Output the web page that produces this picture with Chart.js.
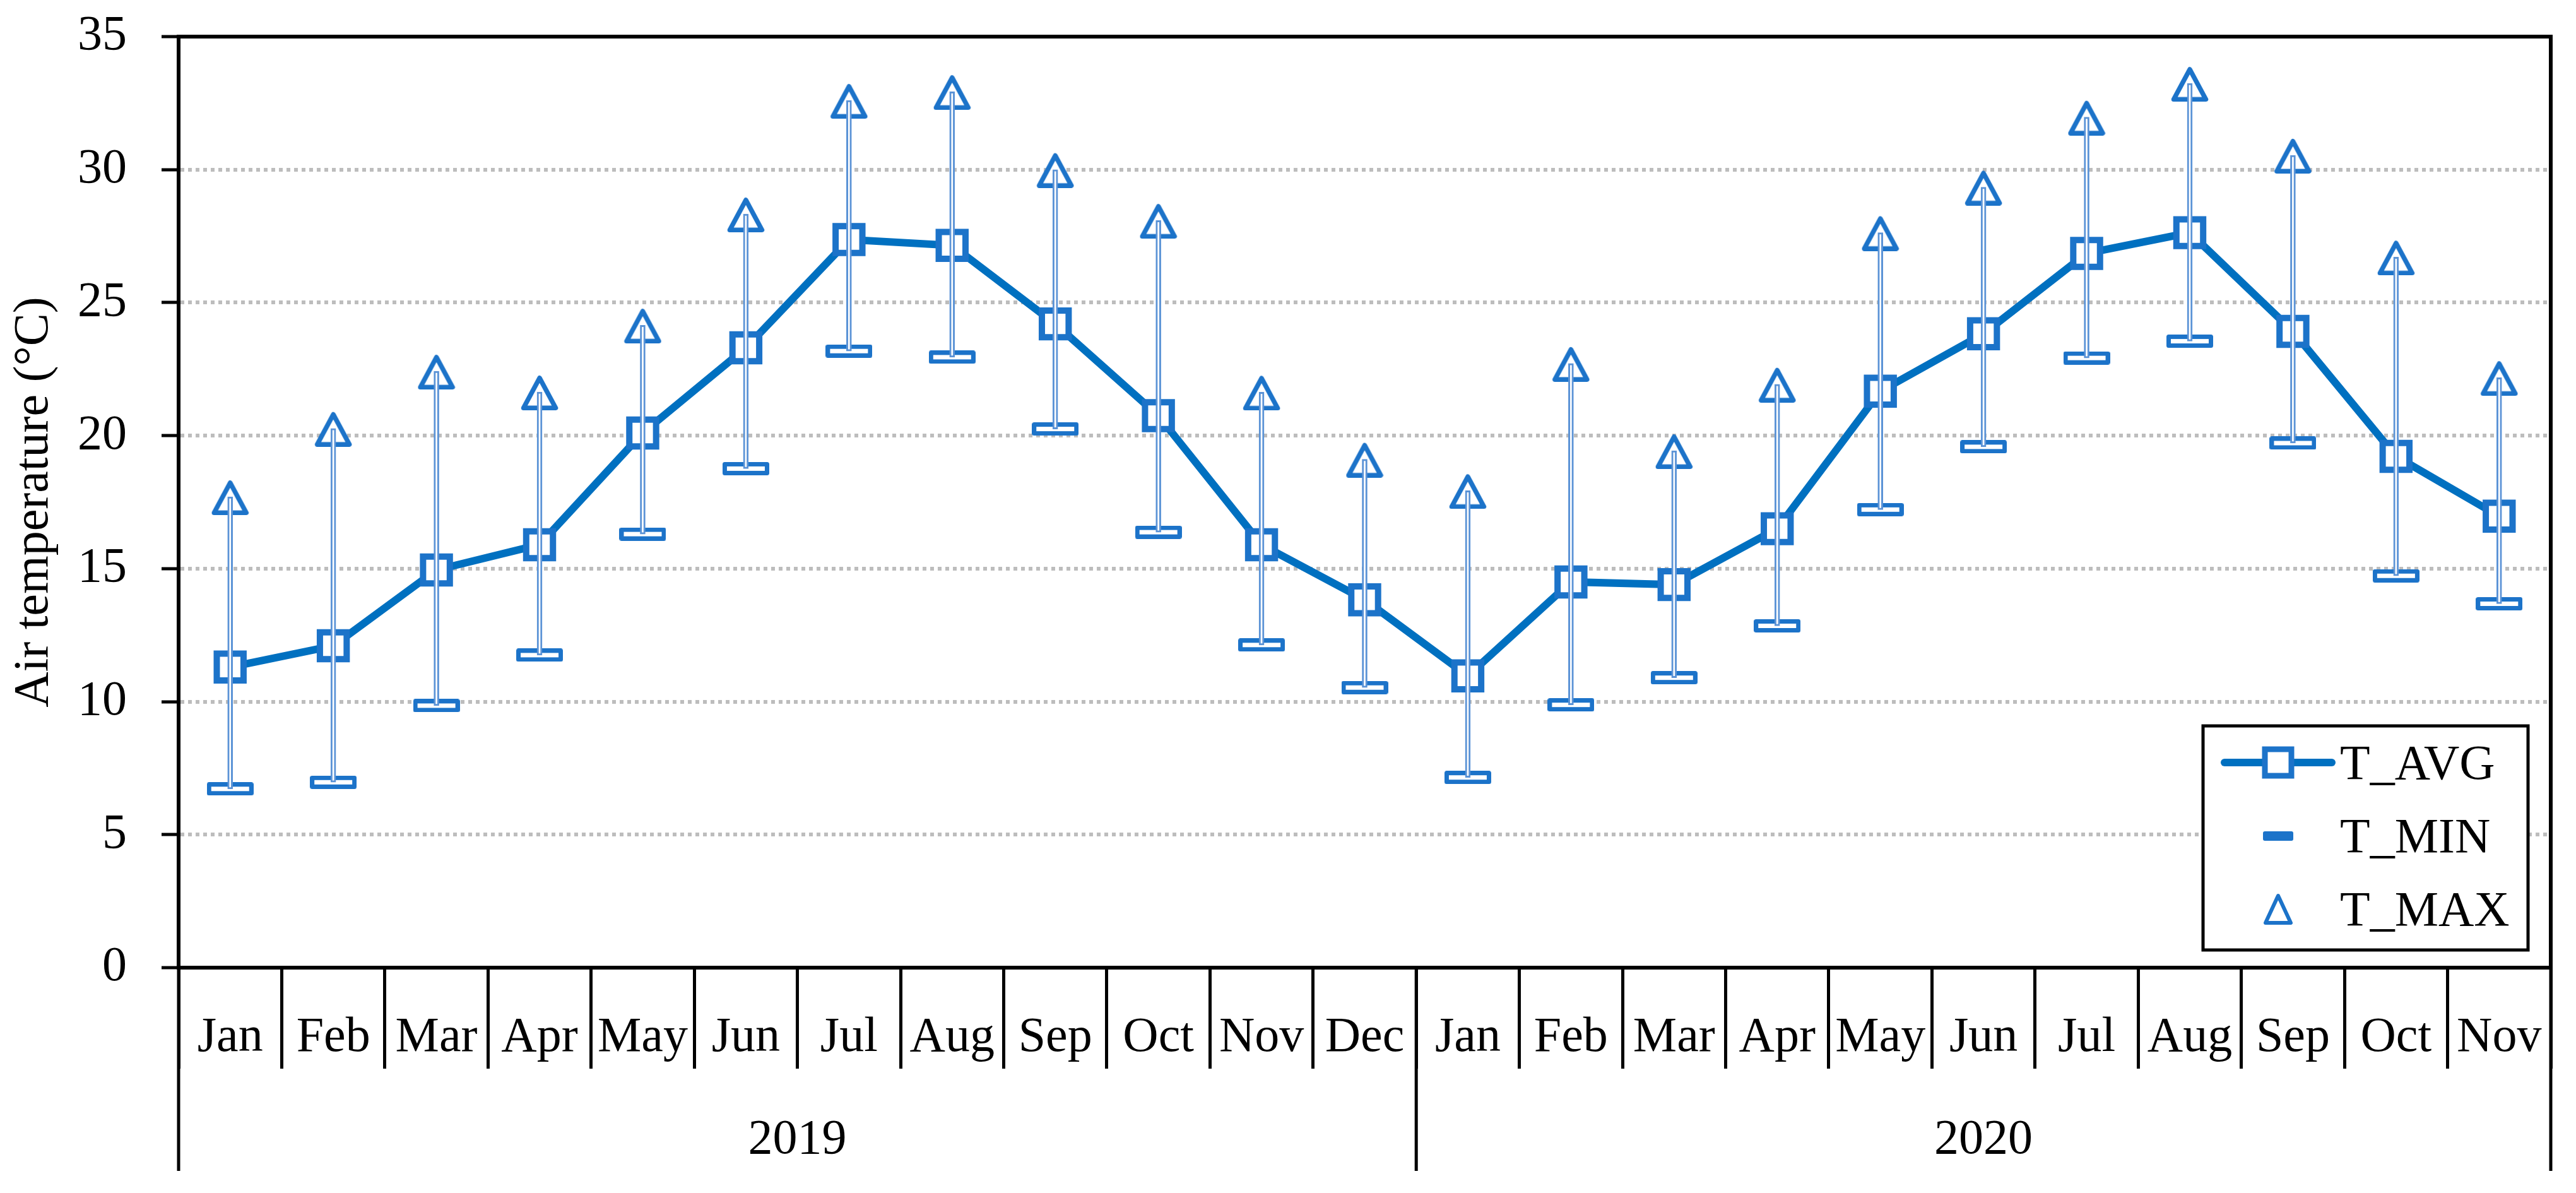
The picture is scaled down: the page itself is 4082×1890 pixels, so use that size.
<!DOCTYPE html>
<html>
<head>
<meta charset="utf-8">
<title>Air temperature 2019-2020</title>
<script src="https://cdn.jsdelivr.net/npm/chart.js@4.4.1/dist/chart.umd.min.js"></script>
<style>
  html, body { margin: 0; padding: 0; background: #fff; }
  canvas { display: block; }
</style>
</head>
<body>
<canvas id="tempChart" width="4082" height="1890"></canvas>
<script>
const months = ['Jan', 'Feb', 'Mar', 'Apr', 'May', 'Jun', 'Jul', 'Aug', 'Sep', 'Oct', 'Nov', 'Dec',
                'Jan', 'Feb', 'Mar', 'Apr', 'May', 'Jun', 'Jul', 'Aug', 'Sep', 'Oct', 'Nov'];
const years = ['2019', '2020'];
const monthsPerYear = [12, 11];

const tAvg = [11.3, 12.1, 14.95, 15.9, 20.1, 23.3, 27.37, 27.15, 24.2, 20.75, 15.9, 13.83,
              10.97, 14.5, 14.4, 16.5, 21.67, 23.83, 26.85, 27.63, 23.92, 19.22, 16.97];
const tMin = [6.72, 6.97, 9.85, 11.75, 16.3, 18.76, 23.18, 22.95, 20.25, 16.37, 12.13, 10.53,
              7.15, 9.88, 10.9, 12.85, 17.22, 19.58, 22.92, 23.55, 19.72, 14.73, 13.68];
const tMax = [17.7, 20.27, 22.42, 21.64, 24.15, 28.33, 32.6, 32.93, 30.0, 28.09, 21.63, 19.11,
              17.93, 22.71, 19.43, 21.93, 27.63, 29.34, 31.97, 33.24, 30.54, 26.71, 22.18];

const yMin = 0;
const yMax = 35;
const yStep = 5;

const LINE_BLUE = '#0070C0';
const MARK_BLUE = '#1C73C9';
const BAR_EDGE = '#5B93D6';
const BAR_FILL = '#FFFFFF';
const FONT = "'Liberation Serif', 'Times New Roman', serif";
const FONT_SIZE = 78;

// marker for T_MIN: outlined flat rectangle
function minMarker(w, h, lw) {
    const c = document.createElement('canvas');
    c.width = w; c.height = h;
    const g = c.getContext('2d');
    g.fillStyle = '#fff';
    g.fillRect(lw / 2, lw / 2, w - lw, h - lw);
    g.strokeStyle = MARK_BLUE;
    g.lineWidth = lw;
    g.lineJoin = 'round';
    g.strokeRect(lw / 2, lw / 2, w - lw, h - lw);
    return c;
}

// marker for T_MAX: outlined triangle, centered on its bounding box
function maxMarker(w, h, lw) {
    const c = document.createElement('canvas');
    c.width = w; c.height = h;
    const g = c.getContext('2d');
    g.beginPath();
    g.moveTo(w / 2, lw * 0.9);
    g.lineTo(w - lw * 0.6, h - lw / 2);
    g.lineTo(lw * 0.6, h - lw / 2);
    g.closePath();
    g.fillStyle = '#fff';
    g.fill();
    g.lineJoin = 'round';
    g.strokeStyle = MARK_BLUE;
    g.lineWidth = lw;
    g.stroke();
    return c;
}

const minIcon = minMarker(74, 21, 7);
const maxIcon = maxMarker(60, 58, 7.5);

const framePlugin = {
    id: 'frame',
    afterDraw(chart) {
        const { ctx, chartArea: a, scales: { x } } = chart;
        const step = x.getPixelForValue(1) - x.getPixelForValue(0);
        const edge = (i) => x.getPixelForValue(i) - step / 2;

        ctx.save();
        ctx.strokeStyle = '#000';
        ctx.lineWidth = 6;
        ctx.beginPath();
        ctx.moveTo(a.left - 3, a.top);
        ctx.lineTo(a.right, a.top);
        ctx.lineTo(a.right, a.bottom + 3);
        ctx.stroke();

        // year row
        ctx.lineWidth = 5;
        let start = 0;
        const cuts = [0];
        monthsPerYear.forEach(n => { start += n; cuts.push(start); });
        ctx.beginPath();
        cuts.forEach(i => {
            const px = i === months.length ? a.right : edge(i);
            ctx.moveTo(px, a.bottom);
            ctx.lineTo(px, a.bottom + 322);
        });
        ctx.stroke();

        ctx.fillStyle = '#000';
        ctx.font = `${FONT_SIZE}px ${FONT}`;
        ctx.textAlign = 'center';
        ctx.textBaseline = 'alphabetic';
        years.forEach((yr, k) => {
            const x0 = edge(cuts[k]);
            const x1 = cuts[k + 1] === months.length ? a.right : edge(cuts[k + 1]);
            ctx.fillText(yr, (x0 + x1) / 2, a.bottom + 294);
        });

        // legend box
        const bx = a.right - 551, by = a.bottom - 383, bw = 515, bh = 355;
        ctx.fillStyle = '#fff';
        ctx.fillRect(bx, by, bw, bh);
        ctx.strokeStyle = '#000';
        ctx.lineWidth = 5;
        ctx.strokeRect(bx, by, bw, bh);

        const sx = bx + 119;
        const tx = bx + 217;
        const rows = [by + 58, by + 174, by + 290];

        // T_AVG symbol
        ctx.strokeStyle = LINE_BLUE;
        ctx.lineWidth = 12;
        ctx.lineCap = 'round';
        ctx.beginPath();
        ctx.moveTo(sx - 85, rows[0]);
        ctx.lineTo(sx + 85, rows[0]);
        ctx.stroke();
        ctx.lineCap = 'butt';
        ctx.fillStyle = '#fff';
        ctx.fillRect(sx - 21, rows[0] - 21, 42, 42);
        ctx.strokeStyle = MARK_BLUE;
        ctx.lineWidth = 9;
        ctx.strokeRect(sx - 21, rows[0] - 21, 42, 42);

        // T_MIN symbol
        ctx.fillStyle = MARK_BLUE;
        ctx.beginPath();
        ctx.roundRect(sx - 24, rows[1] - 7, 48, 15, 3);
        ctx.fill();

        // T_MAX symbol
        ctx.strokeStyle = MARK_BLUE;
        ctx.lineWidth = 6;
        ctx.lineJoin = 'round';
        ctx.beginPath();
        ctx.moveTo(sx, rows[2] - 21);
        ctx.lineTo(sx + 20, rows[2] + 22);
        ctx.lineTo(sx - 20, rows[2] + 22);
        ctx.closePath();
        ctx.stroke();

        ctx.fillStyle = '#000';
        ctx.textAlign = 'left';
        ctx.textBaseline = 'alphabetic';
        ['T_AVG', 'T_MIN', 'T_MAX'].forEach((t, i) => ctx.fillText(t, tx, rows[i] + 26));
        ctx.restore();
    }
};

Chart.defaults.font.family = FONT;
Chart.defaults.font.size = FONT_SIZE;
Chart.defaults.color = '#000';

new Chart(document.getElementById('tempChart').getContext('2d'), {
    data: {
        labels: months,
        datasets: [{
            type: 'bar',
            label: 'range',
            data: tMin.map((v, i) => [v, tMax[i]]),
            barThickness: 8,
            backgroundColor: BAR_FILL,
            borderColor: BAR_EDGE,
            borderWidth: 3,
            borderSkipped: false,
            order: -1
        }, {
            type: 'line',
            label: 'T_AVG',
            data: tAvg,
            borderColor: LINE_BLUE,
            borderWidth: 12,
            tension: 0,
            pointStyle: 'rect',
            pointRadius: 30,
            pointBorderWidth: 10,
            pointBorderColor: MARK_BLUE,
            pointBackgroundColor: '#fff'
        }, {
            type: 'line',
            label: 'T_MIN',
            data: tMin,
            showLine: false,
            pointStyle: minIcon,
            pointRadius: 30
        }, {
            type: 'line',
            label: 'T_MAX',
            data: tMax,
            showLine: false,
            pointStyle: maxIcon,
            pointRadius: 30
        }]
    },
    options: {
        responsive: false,
        devicePixelRatio: 1,
        animation: false,
        layout: {
            padding: { left: 0, right: 35, top: 58, bottom: 0 }
        },
        plugins: {
            legend: { display: false },
            tooltip: { enabled: false }
        },
        scales: {
            x: {
                type: 'category',
                offset: true,
                afterFit: (scale) => { scale.height = 357; },
                grid: {
                    offset: true,
                    drawOnChartArea: false,
                    tickLength: 160,
                    tickColor: '#000',
                    tickWidth: 5
                },
                border: { color: '#000', width: 6 },
                ticks: {
                    padding: -95,
                    maxRotation: 0,
                    autoSkip: false,
                    font: { size: FONT_SIZE }
                }
            },
            y: {
                min: yMin,
                max: yMax,
                afterFit: (scale) => {
                    scale.width = 283;
                    scale.paddingTop = 0;
                    scale.paddingBottom = 0;
                },
                grid: {
                    color: (c) => (c.tick.value === yMin || c.tick.value === yMax) ? 'rgba(0,0,0,0)' : '#BDBDBD',
                    lineWidth: 6,
                    tickLength: 27,
                    tickColor: '#000',
                    tickWidth: 5
                },
                border: { color: '#000', width: 6, dash: [6, 6] },
                ticks: {
                    stepSize: yStep,
                    padding: 55,
                    font: { size: FONT_SIZE }
                },
                title: {
                    display: true,
                    text: 'Air temperature (°C)',
                    padding: { top: 8, bottom: 0 },
                    font: { size: FONT_SIZE }
                }
            }
        }
    },
    plugins: [framePlugin]
});
</script>
</body>
</html>
